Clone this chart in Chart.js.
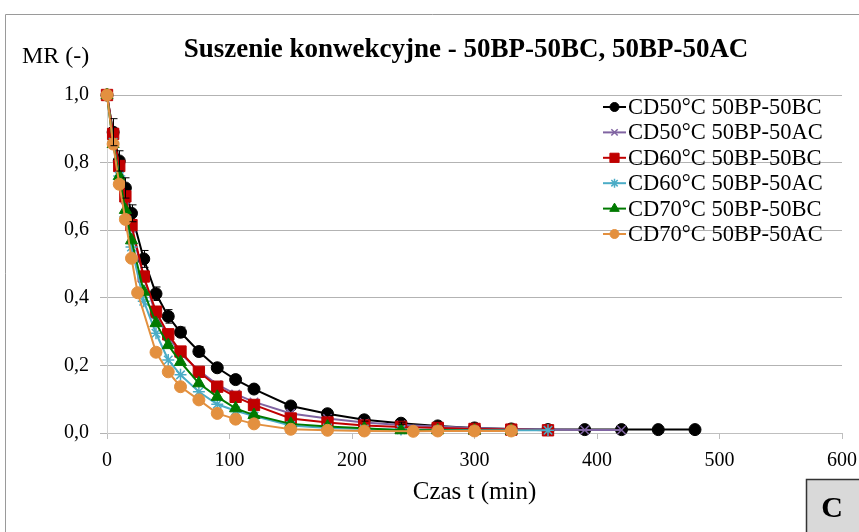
<!DOCTYPE html>
<html>
<head>
<meta charset="utf-8">
<script src="https://cdn.jsdelivr.net/npm/chart.js@4.4.1/dist/chart.umd.min.js"></script>
<style>
  html, body { margin: 0; padding: 0; background: #fff; }
  #wrap { width: 859px; height: 532px; position: relative; }
</style>
</head>
<body>
<div id="wrap"><canvas id="chart" width="859" height="532"></canvas></div>
<script>
// drying time points (min)
const timeFull = [0, 5, 10, 15, 20, 30, 40, 50, 60, 75, 90, 105, 120, 150, 180, 210, 240, 270, 300, 330, 360, 390, 420, 450, 480];
const timeOrange = [0, 5, 10, 15, 20, 25, 40, 50, 60, 75, 90, 105, 120, 150, 180, 210, 250, 270, 300, 330];

const seriesLabels = [
  "CD50°C 50BP-50BC",
  "CD50°C 50BP-50AC",
  "CD60°C 50BP-50BC",
  "CD60°C 50BP-50AC",
  "CD70°C 50BP-50BC",
  "CD70°C 50BP-50AC"
];

// moisture ratio MR (-)
const mr50BC = [1.0, 0.89, 0.805, 0.725, 0.65, 0.515, 0.412, 0.345, 0.298, 0.241, 0.193, 0.158, 0.130, 0.080, 0.057, 0.039, 0.029, 0.021, 0.015, 0.012, 0.010, 0.010, 0.010, 0.010, 0.010];
const mr50AC = [1.0, 0.88, 0.785, 0.69, 0.605, 0.46, 0.35, 0.285, 0.235, 0.185, 0.143, 0.115, 0.092, 0.058, 0.043, 0.031, 0.024, 0.019, 0.015, 0.012, 0.010, 0.009, 0.009];
const mr60BC = [1.0, 0.885, 0.79, 0.70, 0.615, 0.463, 0.359, 0.292, 0.241, 0.181, 0.137, 0.107, 0.083, 0.043, 0.031, 0.022, 0.018, 0.015, 0.012, 0.010, 0.008];
const mr60AC = [1.0, 0.86, 0.76, 0.64, 0.55, 0.39, 0.295, 0.216, 0.172, 0.122, 0.085, 0.066, 0.050, 0.022, 0.015, 0.012, 0.010, 0.009, 0.008, 0.008, 0.008];
const mr70BC = [1.0, 0.855, 0.76, 0.66, 0.57, 0.418, 0.325, 0.26, 0.21, 0.147, 0.107, 0.073, 0.053, 0.027, 0.019, 0.014, 0.008, 0.008, 0.007, 0.007];
const mr70AC = [1.0, 0.855, 0.736, 0.632, 0.517, 0.415, 0.239, 0.181, 0.137, 0.098, 0.058, 0.041, 0.027, 0.011, 0.008, 0.006, 0.005, 0.006, 0.006, 0.006];

// standard deviation for the 50°C BC series
const sd50BC = [0, 0.04, 0.03, 0.03, 0.025, 0.025, 0.02, 0.02, 0.015, 0.015, 0.01, 0.008, 0.008, 0.006, 0.005, 0.004, 0.003, 0, 0, 0, 0, 0, 0, 0, 0];

const yTicks = [0, 0.2, 0.4, 0.6, 0.8, 1.0];

const serif = "'Liberation Serif', 'Times New Roman', serif";

const pairs = (xs, ys) => ys.map((y, i) => ({ x: xs[i], y: y }));

const styles = [
  { color: "#000000", fill: "#000000", point: "circle", radius: 6, order: 6 },
  { color: "#8064A2", fill: "#8064A2", point: "crossRot", radius: 6, order: 5 },
  { color: "#C00000", fill: "#C00000", point: "rect", radius: 8, order: 4 },
  { color: "#4BACC6", fill: "#4BACC6", point: "star", radius: 6, order: 3 },
  { color: "#007A00", fill: "#007A00", point: "triangle", radius: 7, order: 2 },
  { color: "#E3903F", fill: "#E3903F", point: "circle", radius: 6, order: 1 }
];

const thinPoint = (p) => p === "star" || p === "crossRot";

const seriesData = [
  pairs(timeFull, mr50BC),
  pairs(timeFull, mr50AC),
  pairs(timeFull, mr60BC),
  pairs(timeFull, mr60AC),
  pairs(timeFull, mr70BC),
  pairs(timeOrange, mr70AC)
];

// frame, titles, error bars, legend and the panel letter
const decorPlugin = {
  id: "decor",
  beforeDraw(chart) {
    const ctx = chart.ctx;
    ctx.save();
    ctx.strokeStyle = "#9a9a9a";
    ctx.lineWidth = 1;
    ctx.beginPath();
    ctx.moveTo(5.5, 532);
    ctx.lineTo(5.5, 14.5);
    ctx.lineTo(859, 14.5);
    ctx.stroke();
    ctx.restore();
  },
  afterDatasetsDraw(chart) {
    const ctx = chart.ctx;
    const xs = chart.scales.x, ys = chart.scales.y;
    ctx.save();
    ctx.strokeStyle = "#000";
    ctx.lineWidth = 1;
    sd50BC.forEach((sd, i) => {
      if (!sd) return;
      const px = Math.round(xs.getPixelForValue(timeFull[i])) + 0.5;
      const top = ys.getPixelForValue(mr50BC[i] + sd);
      const bot = ys.getPixelForValue(mr50BC[i] - sd);
      ctx.beginPath();
      ctx.moveTo(px, top); ctx.lineTo(px, bot);
      ctx.moveTo(px - 3, top); ctx.lineTo(px + 4, top);
      ctx.moveTo(px - 3, bot); ctx.lineTo(px + 4, bot);
      ctx.stroke();
    });
    ctx.restore();
  },
  afterDraw(chart) {
    const ctx = chart.ctx;
    const area = chart.chartArea;
    ctx.save();
    ctx.fillStyle = "#000";
    ctx.textBaseline = "middle";

    ctx.font = "bold 27px " + serif;
    ctx.textAlign = "center";
    ctx.fillText("Suszenie konwekcyjne - 50BP-50BC, 50BP-50AC", 466, 50);

    ctx.font = "24px " + serif;
    ctx.textAlign = "left";
    ctx.fillText("MR (-)", 22, 57);

    ctx.font = "25px " + serif;
    ctx.textAlign = "center";
    ctx.fillText("Czas t (min)", (area.left + area.right) / 2, 492);

    // legend
    const lx = 603, ly = 107, step = 25.4;
    chart.data.datasets.forEach((ds, i) => {
      const y = ly + i * step;
      const st = styles[i];
      ctx.strokeStyle = st.color;
      ctx.lineWidth = 2;
      ctx.beginPath();
      ctx.moveTo(lx, y); ctx.lineTo(lx + 23, y);
      ctx.stroke();
      ctx.fillStyle = st.fill;
      const bw = thinPoint(st.point) ? 1.5 : 1;
      ctx.lineWidth = bw;
      Chart.helpers.drawPoint(ctx, { pointStyle: st.point, radius: st.radius - 1.5, rotation: 0, borderWidth: bw }, lx + 11.5, y);
      ctx.fillStyle = "#000";
      ctx.font = "22.5px " + serif;
      ctx.textAlign = "left";
      ctx.fillText(ds.label, lx + 25, y + 1);
    });

    // panel letter box
    ctx.fillStyle = "#d9d9d9";
    ctx.fillRect(806, 479, 60, 60);
    ctx.strokeStyle = "#333";
    ctx.lineWidth = 1.5;
    ctx.strokeRect(806.5, 479.5, 60, 60);
    ctx.fillStyle = "#000";
    ctx.font = "bold 30px " + serif;
    ctx.textAlign = "center";
    ctx.fillText("C", 832, 509);
    ctx.restore();
  }
};

const ctx = document.getElementById("chart");
new Chart(ctx, {
  type: "line",
  data: {
    datasets: seriesData.map((d, i) => ({
      label: seriesLabels[i],
      data: d,
      borderColor: styles[i].color,
      backgroundColor: styles[i].fill,
      pointBackgroundColor: styles[i].fill,
      pointBorderColor: styles[i].color,
      pointStyle: styles[i].point,
      pointRadius: styles[i].radius,
      pointBorderWidth: thinPoint(styles[i].point) ? 1.5 : 1,
      borderWidth: 2,
      tension: 0,
      fill: false,
      clip: false,
      order: styles[i].order
    }))
  },
  options: {
    responsive: false,
    animation: false,
    events: [],
    layout: { padding: { top: 95, right: 17, bottom: 0, left: 0 } },
    plugins: {
      legend: { display: false },
      title: { display: false },
      tooltip: { enabled: false }
    },
    scales: {
      x: {
        type: "linear",
        min: 0,
        max: 600,
        afterFit: (scale) => {
          scale.height = 99;
          // let the last label overhang into the right padding
          scale.paddingLeft = 0;
          scale.paddingRight = 0;
        },
        ticks: {
          stepSize: 100,
          padding: 10,
          color: "#000",
          font: { family: serif, size: 20 },
          maxRotation: 0
        },
        grid: { drawOnChartArea: false, drawTicks: true, tickLength: 6, color: "#bfbfbf" },
        border: { display: true, color: "#bfbfbf", width: 1 }
      },
      y: {
        type: "linear",
        min: 0,
        max: 1,
        afterFit: (scale) => {
          scale.width = 107;
          scale.paddingTop = 0;
          scale.paddingBottom = 0;
        },
        afterBuildTicks: (scale) => { scale.ticks = yTicks.map(v => ({ value: v })); },
        ticks: {
          padding: 11,
          color: "#000",
          font: { family: serif, size: 20 },
          callback: (v) => v.toFixed(1).replace(".", ",")
        },
        grid: { color: "#b3b3b3", tickLength: 7, lineWidth: 1 },
        border: { display: true, color: "#d0d0d0", width: 1 }
      }
    }
  },
  plugins: [decorPlugin]
});
</script>
</body>
</html>
